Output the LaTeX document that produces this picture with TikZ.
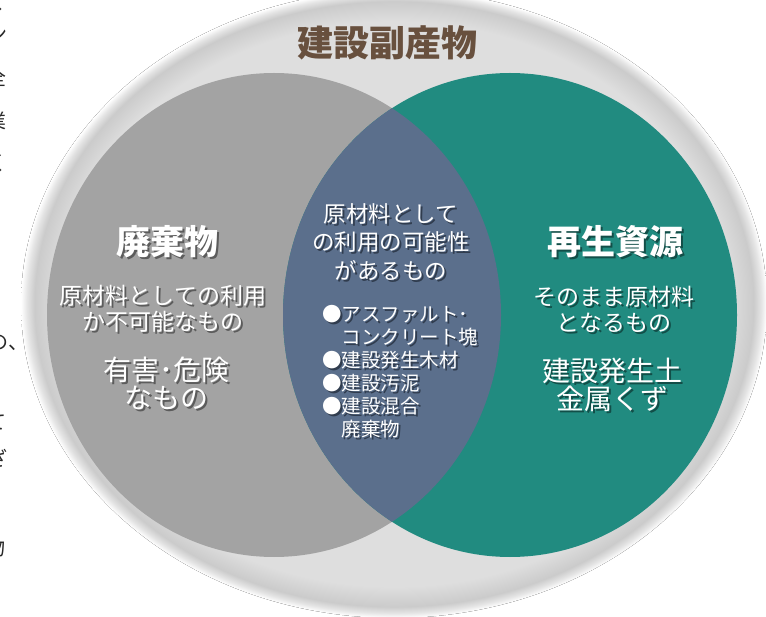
\documentclass[tikz,border=0pt]{standalone}
\usepackage{fontspec}
\newfontfamily\jp{Noto Sans CJK JP}
\definecolor{bgin}{RGB}{222,222,222}
\definecolor{bgedge}{RGB}{203,203,203}
\definecolor{bgedgeb}{RGB}{228,228,228}
\definecolor{graycol}{RGB}{163,163,163}
\definecolor{tealcol}{RGB}{33,139,128}
\definecolor{overlapcol}{RGB}{91,111,140}
\definecolor{titlebrown}{RGB}{104,80,62}
\definecolor{bodytext}{RGB}{40,40,40}
\definecolor{shgray}{RGB}{92,92,92}
\definecolor{shteal}{RGB}{18,78,72}
\definecolor{shblue}{RGB}{48,60,78}
\newcommand\shl[2]{\rlap{\kern2pt\raisebox{-2pt}{\textcolor{#1}{#2}}}#2}
\pgfdeclareradialshading{outerglow}{\pgfpoint{0bp}{0bp}}{color(0bp)=(bgin); color(22.5bp)=(bgin); color(24.1bp)=(bgedge); color(24.6bp)=(bgedgeb); color(25bp)=(white); color(50bp)=(white)}
\begin{document}
\begin{tikzpicture}[x=1pt,y=-1pt,
  wt/.style={text=white, align=center, inner sep=0pt},
  big/.style={font=\jp\bfseries\fontsize{34}{38}\selectfont},
  mid/.style={font=\jp\fontsize{23}{26}\selectfont},
  large/.style={font=\jp\fontsize{28}{28}\selectfont},
  ctr/.style={font=\jp\fontsize{22.5}{28.5}\selectfont},
  bul/.style={font=\jp\fontsize{19.5}{23}\selectfont, align=left},
  margintext/.style={font=\jp\fontsize{20}{22}\selectfont, text=bodytext, inner sep=0pt, anchor=east}
]
\useasboundingbox (0,0) rectangle (766,617);
\fill[white] (0,0) rectangle (766,617);

% outer shape
\fill[shading=outerglow] (394,304) ellipse [x radius=373, y radius=314];

% two circles and their overlap
\fill[graycol] (274,315) ellipse [x radius=227, y radius=242];
\fill[tealcol] (510,315) ellipse [x radius=227, y radius=242];
\begin{scope}
  \clip (274,315) ellipse [x radius=227, y radius=242];
  \fill[overlapcol] (510,315) ellipse [x radius=227, y radius=242];
\end{scope}

% title
\node[font=\jp\bfseries\fontsize{36}{40}\selectfont, text=titlebrown, inner sep=0pt] (title) at (387,43) {建設副産物};

% left circle
\node[wt, big] (hai) at (167,243) {\shl{shgray}{廃棄物}};
\node[wt, mid] (haiA) at (163,310) {\shl{shgray}{原材料としての利用}\\\shl{shgray}{か不可能なもの}};
\node[wt, large] (haiB) at (166,384) {\shl{shgray}{有害･危険}\\\shl{shgray}{なもの}};

% right circle
\node[wt, big] (sai) at (615,243) {\shl{shteal}{再生資源}};
\node[wt, mid] (saiA) at (614,310) {\shl{shteal}{そのまま原材料}\\\shl{shteal}{となるもの}};
\node[wt, large] (saiB) at (612,386) {\shl{shteal}{建設発生土}\\\shl{shteal}{金属くず}};

% overlap
\node[wt, ctr] (ov) at (391,243) {\shl{shblue}{原材料として}\\\shl{shblue}{の利用の可能性}\\\shl{shblue}{があるもの}};
\node[wt, bul, anchor=west] (list) at (322,372.5) {\shl{shblue}{●アスファルト･}\\\shl{shblue}{\hphantom{●}コンクリート塊}\\\shl{shblue}{●建設発生木材}\\\shl{shblue}{●建設汚泥}\\\shl{shblue}{●建設混合}\\\shl{shblue}{\hphantom{●}廃棄物}};

% cut-off body text at the left margin
\begin{scope}
  \clip (0,0) rectangle (766,617);
  \node[margintext] (m1) at (8,2) {く};
  \node[margintext] (m2) at (8,34) {ン};
  \node[margintext] (m3) at (7,78) {全};
  \node[margintext] (m4) at (7,121) {業};
  \node[margintext] (m5) at (8,163) {く};
  \node[margintext] (m6) at (29,343) {の、};
  \node[margintext] (m7) at (7,423) {て};
  \node[margintext] (m8) at (8,458) {ざ};
  \node[margintext] (m9) at (6,548) {物};
\end{scope}
\end{tikzpicture}
\end{document}
